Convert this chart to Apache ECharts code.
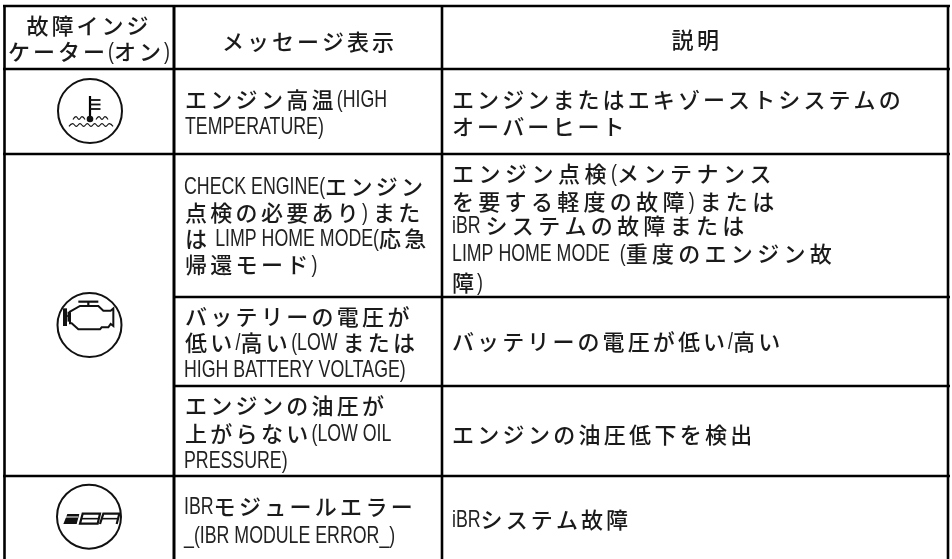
<!DOCTYPE html>
<html><head><meta charset="utf-8">
<style>html,body{margin:0;padding:0;background:#fff}#c{width:952px;height:559px}</style>
<script src="https://cdn.jsdelivr.net/npm/echarts@6/dist/echarts.min.js"></script>
</head><body><div id="c"></div>
<script>
// Table content. Each line: [left x, centre y, runs]; run = [text, pitch of Japanese glyphs, or 0 for Latin]
const headerLines = [
  [89,26,['故障インジ',25]],
  [89,52,['ケーター',25],['(',0],['オン',25],[')',0]],
  [309.5,42,['メッセージ表示',25]],
  [697,40,['説明',25.5]]
];
const col2Lines = [
  [185,100,[['エンジン高温',25.3],['(HIGH',0]]],
  [185,127.5,[['TEMPERATURE)',0]]],
  [184,187,[['CHECK ENGINE(',0],['エンジン',25.3]]],
  [185,213,[['点検の必要あり',25.3],[') ',0],['また',25.3]]],
  [185,239,[['は',25.3],[' LIMP HOME MODE(',0],['応急',25.3]]],
  [185,265,[['帰還モード',25.3],[')',0]]],
  [185,317,[['バッテリーの電圧が',25.3]]],
  [185,343,[['低い',25.3],['/',0],['高い',25.3],['(LOW ',0],['または',25.3]]],
  [184,370,[['HIGH BATTERY VOLTAGE)',0]]],
  [185,406,[['エンジンの油圧が',25.3]]],
  [185,434,[['上がらない',25.3],['(LOW OIL',0]]],
  [184,461,[['PRESSURE)',0]]],
  [184,507,[['IBR',0],['モジュールエラー',25.3]]],
  [184,536,[['_(IBR MODULE ERROR_)',0]]]
];
const col3Lines = [
  [452,100,[['エンジンまたはエキゾーストシステムの',25.1]]],
  [452,127,[['オーバーヒート',25.1]]],
  [452,174,[['エンジン点検',26.5],['(',0],['メンテナンス',26.5]]],
  [452,202,[['を要する軽度の故障',26.3],[') ',0],['または',26.3]]],
  [452,226,[['iBR ',0],['システムの故障または',26.3]]],
  [452,254,[['LIMP HOME MODE  (',0],['重度のエンジン故',26.3]]],
  [452,283,[['障',25],[')',0]]],
  [452,342,[['バッテリーの電圧が低い',25.1],['/',0],['高い',25.1]]],
  [452,435,[['エンジンの油圧低下を検出',25.3]]],
  [452,520,[['iBR',0],['システム故障',25.1]]]
];
const rowLines = [6,69,154,297,386,476];
const colLines = [4.5,174,442,948];
// horizontal rule extents: the icon column merges rows 3-5
const ruleSpans = [[3,950],[3,950],[3,950],[174,950],[174,950],[3,950]];

const JP='"Noto Sans CJK JP"', LAT='"Liberation Sans"';
const JS=22, LS=24, LX=0.74;
const ctx=document.createElement('canvas').getContext('2d');
const els=[];
function jp(ch,x,y){els.push({type:'text',silent:true,x,y,style:{x:0,y:0,text:ch,font:`500 ${JS}px ${JP}`,fill:'#1a1a1a',verticalAlign:'middle',align:'left'}});}
function lat(s,x,y){els.push({type:'text',silent:true,x,y,scaleX:LX,style:{x:0,y:0,text:s,font:`${LS}px ${LAT}`,fill:'#222',verticalAlign:'middle',align:'left'}});}
function latW(s){ctx.font=`${LS}px Liberation Sans`;return ctx.measureText(s).width*LX;}
function drawRuns(x,y,runs){
  for(const [s,p] of runs){
    if(p>0){for(const ch of s){jp(ch,x,y);x+=p;}}
    else{lat(s,x,y);x+=latW(s);}
  }
}
headerLines.forEach(h=>{
  const [cx,y,...runs]=h;
  let w=0;
  runs.forEach(([s,p])=>{w+=p>0?[...s].length*p:latW(s);});
  drawRuns(cx-w/2,y,runs);
});
col2Lines.forEach(l=>drawRuns(l[0],l[1],l[2]));
col3Lines.forEach(l=>drawRuns(l[0],l[1],l[2]));
const line=(x1,y1,x2,y2,w)=>els.push({type:'line',silent:true,shape:{x1,y1,x2,y2},style:{stroke:'#000',lineWidth:w}});
rowLines.forEach((y,i)=>line(ruleSpans[i][0],y,ruleSpans[i][1],y,2.6));
colLines.forEach(x=>line(x,5,x,559,x===174?3:2.6));

const K='#111';
const circ=(cx,cy,r,w=2)=>els.push({type:'circle',silent:true,shape:{cx,cy,r},style:{fill:'none',stroke:K,lineWidth:w}});
const path=(pts,o={})=>{
  els.push({type:o.closed?'polygon':'polyline',silent:true,shape:{points:pts,smooth:o.smooth||0},style:{fill:o.fill||'none',stroke:o.stroke===undefined?K:o.stroke,lineWidth:o.w||1.5,lineJoin:'miter'}});
};
// thermometer icon
circ(90,111,32);
line(90,96,90,119,2.2);
[100,104.5,109].forEach(y=>path([[90,y],[100.5,y]],{w:1.8}));
els.push({type:'circle',silent:true,shape:{cx:90,cy:119,r:3.3},style:{fill:K}});
const wave=(x0,x1,y,n)=>{const pts=[];const s=(x1-x0)/n;for(let i=0;i<=n;i++){pts.push([x0+s*i,y+(i%2?-1.4:1.4)]);}path(pts,{smooth:0.5,w:1.1});};
wave(73,85,118,4);wave(96,108,118,4);wave(69,113,125,12);
// engine icon
circ(89.5,325,32);
const E=(a)=>a.map(p=>[20+p[0]/3,250+p[1]/3]);
path(E([[150,185],[180,168],[235,168],[250,182],[272,182],[280,175],[280,228],[272,222],[265,232],[245,232],[240,238],[175,238],[155,220],[150,220]]),{closed:true,w:2});
path(E([[175,155],[235,155]]),{w:2.2});
path(E([[205,155],[205,168]]),{w:2.2});
path(E([[135,175],[135,228]]),{w:4});
path(E([[135,198],[150,198]]),{w:1.6});
path(E([[145,185],[145,215]]),{w:1.6});
// iBR icon
circ(89,516.7,32);
const R=(a)=>a.map(p=>[20+p[0]/3,475+p[1]/3]);
path(R([[130,147],[170,147],[178,117],[142,117]]),{closed:true,fill:K,stroke:'none'});
path(R([[132,126],[174,126]]),{stroke:'#fff',w:1});
path(R([[180,146],[233,146],[240,116],[188,116]]),{closed:true,w:2.2});
path(R([[183,131],[237,131]]),{w:1.6});
path(R([[240,147],[250,116],[298,116],[290,147]]),{closed:false,w:2.2});
path(R([[246,131],[293,131]]),{w:1.6});

const chart=echarts.init(document.getElementById('c'),null,{renderer:'canvas',width:952,height:559});
chart.setOption({animation:false,backgroundColor:'#fff',graphic:{elements:els}});
</script></body></html>
